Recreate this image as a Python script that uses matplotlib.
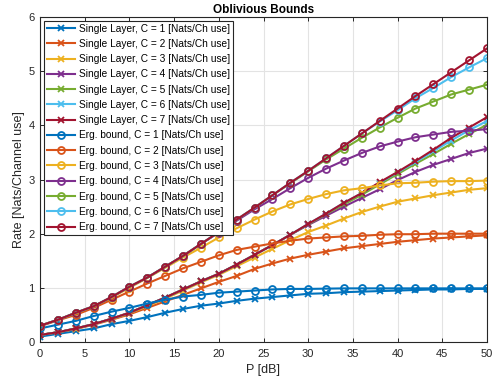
import numpy as np
import matplotlib
matplotlib.use("Agg")
import matplotlib.pyplot as plt

plt.rcParams['font.family'] = ['Liberation Sans', 'DejaVu Sans']

P = list(range(0, 51, 2))

single = {
    1: [0.10,0.15,0.20,0.25,0.33,0.39,0.46,0.54,0.61,0.67,0.71,0.76,0.80,0.83,0.86,0.89,0.90,0.92,0.93,0.94,0.95,0.96,0.97,0.97,0.98,0.98],
    2: [0.13,0.18,0.24,0.32,0.41,0.51,0.63,0.75,0.87,0.99,1.11,1.22,1.35,1.45,1.54,1.61,1.67,1.73,1.77,1.81,1.85,1.88,1.91,1.93,1.95,1.97],
    3: [0.13,0.18,0.24,0.33,0.42,0.53,0.66,0.80,0.95,1.10,1.24,1.40,1.56,1.72,1.88,2.03,2.15,2.28,2.40,2.50,2.59,2.65,2.71,2.76,2.81,2.84],
    4: [0.13,0.18,0.25,0.33,0.43,0.54,0.68,0.82,0.97,1.12,1.26,1.43,1.61,1.79,1.98,2.16,2.33,2.50,2.66,2.82,2.99,3.14,3.27,3.38,3.49,3.57],
    5: [0.13,0.18,0.25,0.33,0.43,0.54,0.68,0.82,0.97,1.12,1.26,1.43,1.61,1.79,1.98,2.17,2.36,2.54,2.72,2.91,3.10,3.29,3.47,3.66,3.84,4.01],
    6: [0.13,0.18,0.25,0.33,0.43,0.54,0.68,0.82,0.97,1.12,1.26,1.43,1.61,1.79,1.98,2.18,2.37,2.57,2.75,2.94,3.13,3.32,3.52,3.72,3.91,4.08],
    7: [0.13,0.18,0.25,0.33,0.43,0.54,0.68,0.82,0.97,1.12,1.26,1.43,1.61,1.79,1.98,2.18,2.37,2.57,2.75,2.95,3.14,3.34,3.55,3.77,3.96,4.15],
}
erg = {
    1: [0.25,0.32,0.39,0.48,0.56,0.63,0.71,0.78,0.84,0.87,0.91,0.93,0.95,0.97,0.98,0.98,0.985,0.99,0.99,0.99,0.99,0.99,0.99,0.99,0.99,0.99],
    2: [0.29,0.40,0.50,0.63,0.78,0.93,1.08,1.22,1.36,1.48,1.60,1.70,1.76,1.82,1.87,1.91,1.93,1.95,1.96,1.98,1.99,1.99,2.00,2.00,2.00,2.00],
    3: [0.30,0.41,0.53,0.66,0.82,1.00,1.18,1.37,1.56,1.74,1.93,2.10,2.26,2.41,2.54,2.64,2.73,2.80,2.84,2.89,2.93,2.94,2.96,2.97,2.97,2.98],
    4: [0.30,0.41,0.54,0.66,0.83,1.02,1.19,1.39,1.59,1.81,2.02,2.24,2.45,2.64,2.84,3.03,3.20,3.35,3.49,3.61,3.70,3.78,3.83,3.88,3.90,3.93],
    5: [0.30,0.41,0.54,0.66,0.83,1.02,1.19,1.39,1.59,1.81,2.03,2.26,2.48,2.71,2.93,3.15,3.37,3.57,3.77,3.96,4.14,4.31,4.44,4.57,4.66,4.75],
    6: [0.30,0.41,0.54,0.66,0.83,1.02,1.19,1.39,1.59,1.81,2.03,2.26,2.48,2.71,2.94,3.16,3.39,3.62,3.85,4.07,4.28,4.50,4.69,4.89,5.07,5.24],
    7: [0.30,0.41,0.54,0.66,0.83,1.02,1.19,1.39,1.59,1.81,2.03,2.26,2.48,2.71,2.94,3.16,3.39,3.62,3.85,4.08,4.31,4.54,4.76,4.98,5.20,5.42],
}
colors = ['#0072BD', '#D95319', '#EDB120', '#7E2F8E', '#77AC30', '#4DBEEE', '#A2142F']

fig = plt.figure(figsize=(4.93, 3.84), dpi=100)
ax = fig.add_axes([40/493, 42/384, 447/493, 325/384])

for c in range(1, 8):
    ax.plot(P, single[c], color=colors[c-1], lw=1.5, marker='x', ms=4.2, mew=1.3,
            label=f'Single Layer, C = {c} [Nats/Ch use]')
for c in range(1, 8):
    ax.plot(P, erg[c], color=colors[c-1], lw=1.5, marker='o', ms=5, mew=1.3,
            mfc='none', label=f'Erg. bound, C = {c} [Nats/Ch use]')

ax.set_xlim(0, 50)
ax.set_ylim(0, 6)
ax.set_xticks(range(0, 51, 5))
ax.set_yticks(range(0, 7))
ax.grid(True, color='#e3e3e3', lw=0.8)
ax.set_axisbelow(True)
ax.tick_params(direction='in', top=True, right=True, labelsize=8, length=3,
               width=0.7, colors='#262626')
ax.tick_params(axis='x', pad=5)
ax.tick_params(axis='y', pad=4)
for s in ax.spines.values():
    s.set_color('#262626')
    s.set_linewidth(0.8)
ax.set_xlabel('P [dB]', fontsize=9, color='#262626', labelpad=4)
ax.set_ylabel('Rate [Nats/Channel use]', fontsize=9, color='#262626', labelpad=2)
ax.set_title('Oblivious Bounds', fontsize=8.5, fontweight='bold', pad=3)

leg = ax.legend(loc='upper left', fontsize=7.3, frameon=True, fancybox=False,
                edgecolor='#262626', handlelength=2.8, labelspacing=0.52,
                borderaxespad=0.35, borderpad=0.3, handletextpad=0.35,
                framealpha=1)
leg.get_frame().set_linewidth(0.8)

fig.savefig('out.png', dpi=100)
